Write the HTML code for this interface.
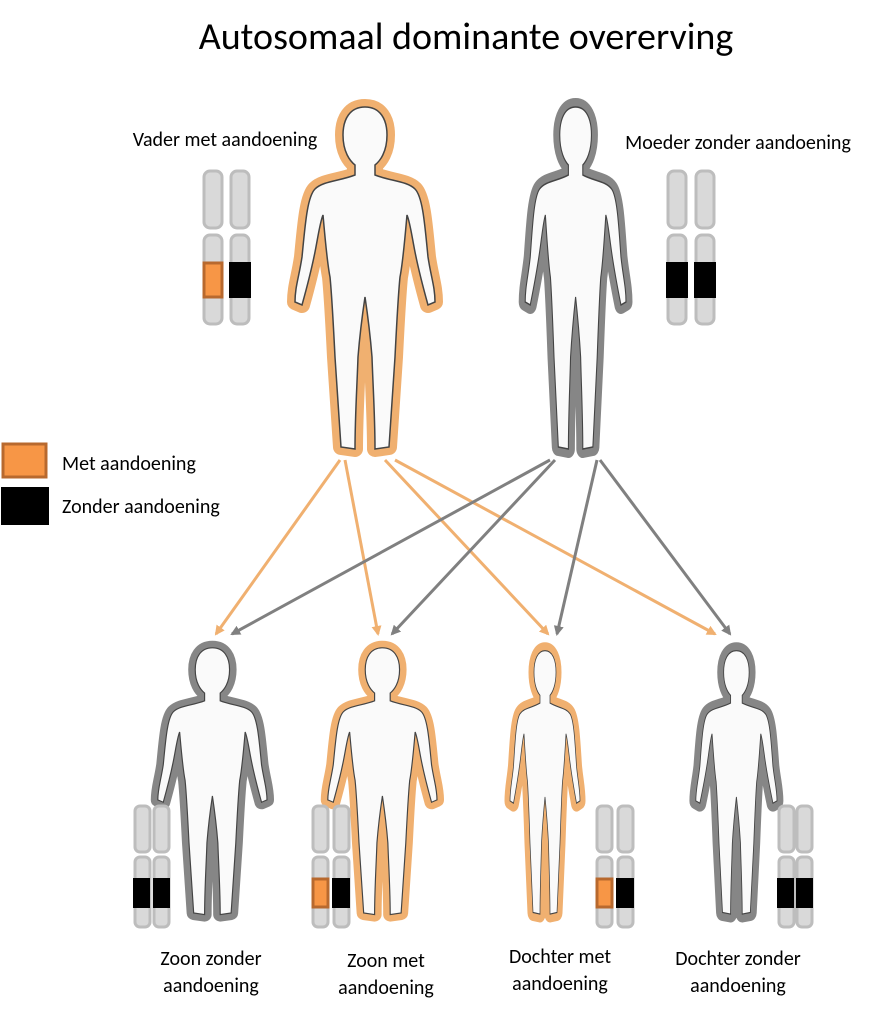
<!DOCTYPE html>
<html><head><style>
body{margin:0;background:#fff;}
svg{display:block;font-family:"Liberation Sans",sans-serif;}
text{font-family:Calibri,"Liberation Sans",sans-serif;fill:#000;}
</style></head><body>
<svg width="881" height="1013" viewBox="0 0 881 1013" xmlns="http://www.w3.org/2000/svg">
<defs>
<path id="body" d="M80,10 C95,10 102,22 102,38 C102,55 95,64 90,68 L90,78 C105,84 122,84 130,92 C138,100 140,130 143,160 C146,180 150,190 150,205 L143,208 C138,190 134,175 130,155 C127,140 125,125 122,118 C120,140 118,165 115,180 C113,200 112,220 110,260 C108,290 106,320 104,350 L90,352 C90,320 88,290 87,260 C85,235 83,220 80,200 C77,220 75,235 73,260 C72,290 70,320 70,352 L56,350 C54,320 52,290 50,260 C48,220 47,200 45,180 C42,165 40,140 38,118 C35,125 33,140 30,155 C26,175 22,190 17,208 L10,205 C10,190 14,180 17,160 C20,130 22,100 30,92 C38,84 55,84 70,78 L70,68 C65,64 58,55 58,38 C58,22 65,10 80,10 Z"/>
<marker id="ao" markerWidth="10" markerHeight="10" refX="8" refY="5" orient="auto" markerUnits="userSpaceOnUse"><path d="M0,0 L10,5 L0,10 Z" fill="#f0b070"/></marker>
<marker id="ag" markerWidth="10" markerHeight="10" refX="8" refY="5" orient="auto" markerUnits="userSpaceOnUse"><path d="M0,0 L10,5 L0,10 Z" fill="#808080"/></marker>
</defs>

<text x="466" y="49" font-size="38" text-anchor="middle">Autosomaal dominante overerving</text>
<text x="225" y="146" font-size="20" text-anchor="middle">Vader met aandoening</text>
<text x="738" y="149" font-size="20" text-anchor="middle">Moeder zonder aandoening</text>

<g stroke-width="3" fill="none">
<line x1="340" y1="460" x2="216" y2="634" stroke="#f0b070" marker-end="url(#ao)"/>
<line x1="345" y1="460" x2="378" y2="634" stroke="#f0b070" marker-end="url(#ao)"/>
<line x1="385" y1="460" x2="548" y2="634" stroke="#f0b070" marker-end="url(#ao)"/>
<line x1="395" y1="460" x2="715" y2="634" stroke="#f0b070" marker-end="url(#ao)"/>
<line x1="550" y1="460" x2="232" y2="634" stroke="#808080" marker-end="url(#ag)"/>
<line x1="555" y1="460" x2="392" y2="634" stroke="#808080" marker-end="url(#ag)"/>
<line x1="597" y1="460" x2="557" y2="634" stroke="#808080" marker-end="url(#ag)"/>
<line x1="600" y1="460" x2="730" y2="634" stroke="#808080" marker-end="url(#ag)"/>
</g>

<g transform="translate(285,97)">
<use href="#body" fill="none" stroke="#f0b070" stroke-width="16" stroke-linejoin="round"/>
<use href="#body" fill="#fafafa" stroke="#444" stroke-width="1.5"/>
</g>
<g transform="translate(518,97) scale(0.72,1)">
<use href="#body" fill="none" stroke="#868686" stroke-width="18" stroke-linejoin="round"/>
<use href="#body" fill="#fafafa" stroke="#444" stroke-width="1.5"/>
</g>
<g transform="translate(150,640) scale(0.78,0.78)">
<use href="#body" fill="none" stroke="#868686" stroke-width="18" stroke-linejoin="round"/>
<use href="#body" fill="#fafafa" stroke="#444" stroke-width="1.5"/>
</g>
<g transform="translate(320,640) scale(0.78,0.78)">
<use href="#body" fill="none" stroke="#f0b070" stroke-width="18" stroke-linejoin="round"/>
<use href="#body" fill="#fafafa" stroke="#444" stroke-width="1.5"/>
</g>
<g transform="translate(505,643) scale(0.5,0.77)">
<use href="#body" fill="none" stroke="#f0b070" stroke-width="22" stroke-linejoin="round"/>
<use href="#body" fill="#fafafa" stroke="#444" stroke-width="1.5"/>
</g>
<g transform="translate(690,643) scale(0.58,0.77)">
<use href="#body" fill="none" stroke="#868686" stroke-width="22" stroke-linejoin="round"/>
<use href="#body" fill="#fafafa" stroke="#444" stroke-width="1.5"/>
</g>

<g fill="#d9d9d9" stroke="#bdbdbd" stroke-width="3">
<rect x="204" y="171" width="18" height="57" rx="6"/><rect x="231" y="171" width="18" height="57" rx="6"/>
<rect x="204" y="235" width="18" height="89" rx="6"/><rect x="231" y="235" width="18" height="89" rx="6"/>
<rect x="668" y="171" width="18" height="57" rx="6"/><rect x="696" y="171" width="18" height="57" rx="6"/>
<rect x="668" y="235" width="18" height="89" rx="6"/><rect x="696" y="235" width="18" height="89" rx="6"/>
<rect x="135" y="806" width="15" height="46" rx="5"/><rect x="154" y="806" width="15" height="46" rx="5"/>
<rect x="135" y="857" width="15" height="70" rx="5"/><rect x="154" y="857" width="15" height="70" rx="5"/>
<rect x="313" y="806" width="15" height="46" rx="5"/><rect x="334" y="806" width="15" height="46" rx="5"/>
<rect x="313" y="857" width="15" height="70" rx="5"/><rect x="334" y="857" width="15" height="70" rx="5"/>
<rect x="597" y="806" width="15" height="46" rx="5"/><rect x="618" y="806" width="15" height="46" rx="5"/>
<rect x="597" y="857" width="15" height="70" rx="5"/><rect x="618" y="857" width="15" height="70" rx="5"/>
<rect x="779" y="806" width="15" height="46" rx="5"/><rect x="797" y="806" width="15" height="46" rx="5"/>
<rect x="779" y="857" width="15" height="70" rx="5"/><rect x="797" y="857" width="15" height="70" rx="5"/>
</g>
<rect x="204" y="263" width="18" height="34" fill="#f79646" stroke="#b8692e" stroke-width="3"/>
<rect x="229" y="262" width="22" height="36" fill="#000"/>
<rect x="666" y="262" width="22" height="36" fill="#000"/>
<rect x="694" y="262" width="22" height="36" fill="#000"/>
<rect x="133" y="878" width="17" height="30" fill="#000"/><rect x="153" y="878" width="17" height="30" fill="#000"/>
<rect x="313" y="879" width="15" height="28" fill="#f79646" stroke="#b8692e" stroke-width="3"/>
<rect x="332" y="878" width="18" height="30" fill="#000"/>
<rect x="597" y="879" width="15" height="28" fill="#f79646" stroke="#b8692e" stroke-width="3"/>
<rect x="616" y="878" width="18" height="30" fill="#000"/>
<rect x="777" y="878" width="17" height="30" fill="#000"/><rect x="796" y="878" width="17" height="30" fill="#000"/>

<rect x="3" y="444" width="43" height="33" fill="#f79646" stroke="#b8692e" stroke-width="3"/>
<text x="62" y="470" font-size="20">Met aandoening</text>
<rect x="1" y="487" width="48" height="38" fill="#000"/>
<text x="62" y="513" font-size="20">Zonder aandoening</text>

<g font-size="20" text-anchor="middle">
<text x="211" y="965">Zoon zonder</text><text x="211" y="992">aandoening</text>
<text x="386" y="967">Zoon met</text><text x="386" y="994">aandoening</text>
<text x="560" y="963">Dochter met</text><text x="560" y="990">aandoening</text>
<text x="738" y="965">Dochter zonder</text><text x="738" y="992">aandoening</text>
</g>
</svg>
</body></html>
